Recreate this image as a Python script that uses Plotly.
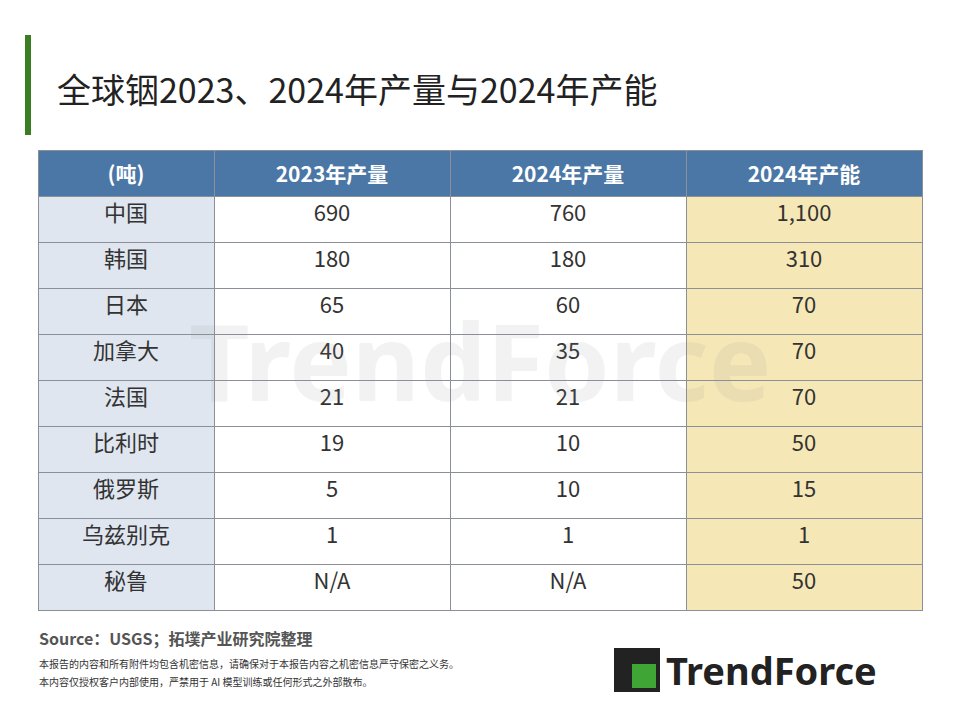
import plotly.graph_objects as go

headers = ["(吨)", "2023年产量", "2024年产量", "2024年产能"]
countries = ["中国", "韩国", "日本", "加拿大", "法国", "比利时", "俄罗斯", "乌兹别克", "秘鲁"]
prod_2023 = ["690", "180", "65", "40", "21", "19", "5", "1", "N/A"]
prod_2024 = ["760", "180", "60", "35", "21", "10", "10", "1", "N/A"]
cap_2024 = ["1,100", "310", "70", "70", "70", "50", "15", "1", "50"]

OFF = 8
def px(x): return (x - OFF) / 960
def py(y): return 1 - (y - OFF) / 720

n = len(countries)
F = "Noto Sans CJK SC"
fig = go.Figure(go.Table(
    domain=dict(x=[px(38), px(922)], y=[py(612), py(150)]),
    columnwidth=[176, 236, 236, 236],
    header=dict(values=[f"<b>{h}</b>" for h in headers], height=46,
                fill_color="#4b77a6", line_color="#8a8f98",
                font=dict(family=F, size=21, color="white"), align="center"),
    cells=dict(values=[countries, prod_2023, prod_2024, cap_2024], height=46,
               fill_color=[["#dfe6ef"]*n, ["white"]*n, ["white"]*n, ["#f6e8b6"]*n],
               line_color="#8a8f98",
               font=dict(family=F, size=22, color="#333333"), align="center"),
))
def ann(x, y, text, size, color, family=F, xanchor="left"):
    fig.add_annotation(x=px(x), y=py(y), xref="paper", yref="paper", xanchor=xanchor,
                       yanchor="middle", text=text, showarrow=False,
                       font=dict(family=family, size=size, color=color))
fig.add_shape(type="rect", xref="paper", yref="paper", x0=px(25), x1=px(31),
              y0=py(135), y1=py(35), fillcolor="#3a7d22", line_width=0)
ann(55, 88, "全球铟2023、2024年产量与2024年产能", 34, "#222222")
ann(37, 638, "<b>Source：USGS；拓墣产业研究院整理</b>", 16, "#555555")
ann(37, 663, "本报告的内容和所有附件均包含机密信息，请确保对于本报告内容之机密信息严守保密之义务。", 10, "#333333")
ann(37, 681, "本内容仅授权客户内部使用，严禁用于 AI 模型训练或任何形式之外部散布。", 10, "#333333")
ann(480, 360, "<b>TrendForce</b>", 105, "rgba(150,150,150,0.12)", "Noto Sans", "center")
fig.add_shape(type="rect", xref="paper", yref="paper", x0=px(614), x1=px(660),
              y0=py(692), y1=py(648), fillcolor="#222222", line_width=0)
fig.add_shape(type="rect", xref="paper", yref="paper", x0=px(632), x1=px(656),
              y0=py(688), y1=py(664), fillcolor="#3fa535", line_width=0)
ann(664, 670, "<b>TrendForce</b>", 38, "#222222", "Noto Sans")
fig.update_layout(width=960, height=720, margin=dict(l=0, r=0, t=0, b=0),
                  paper_bgcolor="white", plot_bgcolor="white")
fig.write_html("out.html")
